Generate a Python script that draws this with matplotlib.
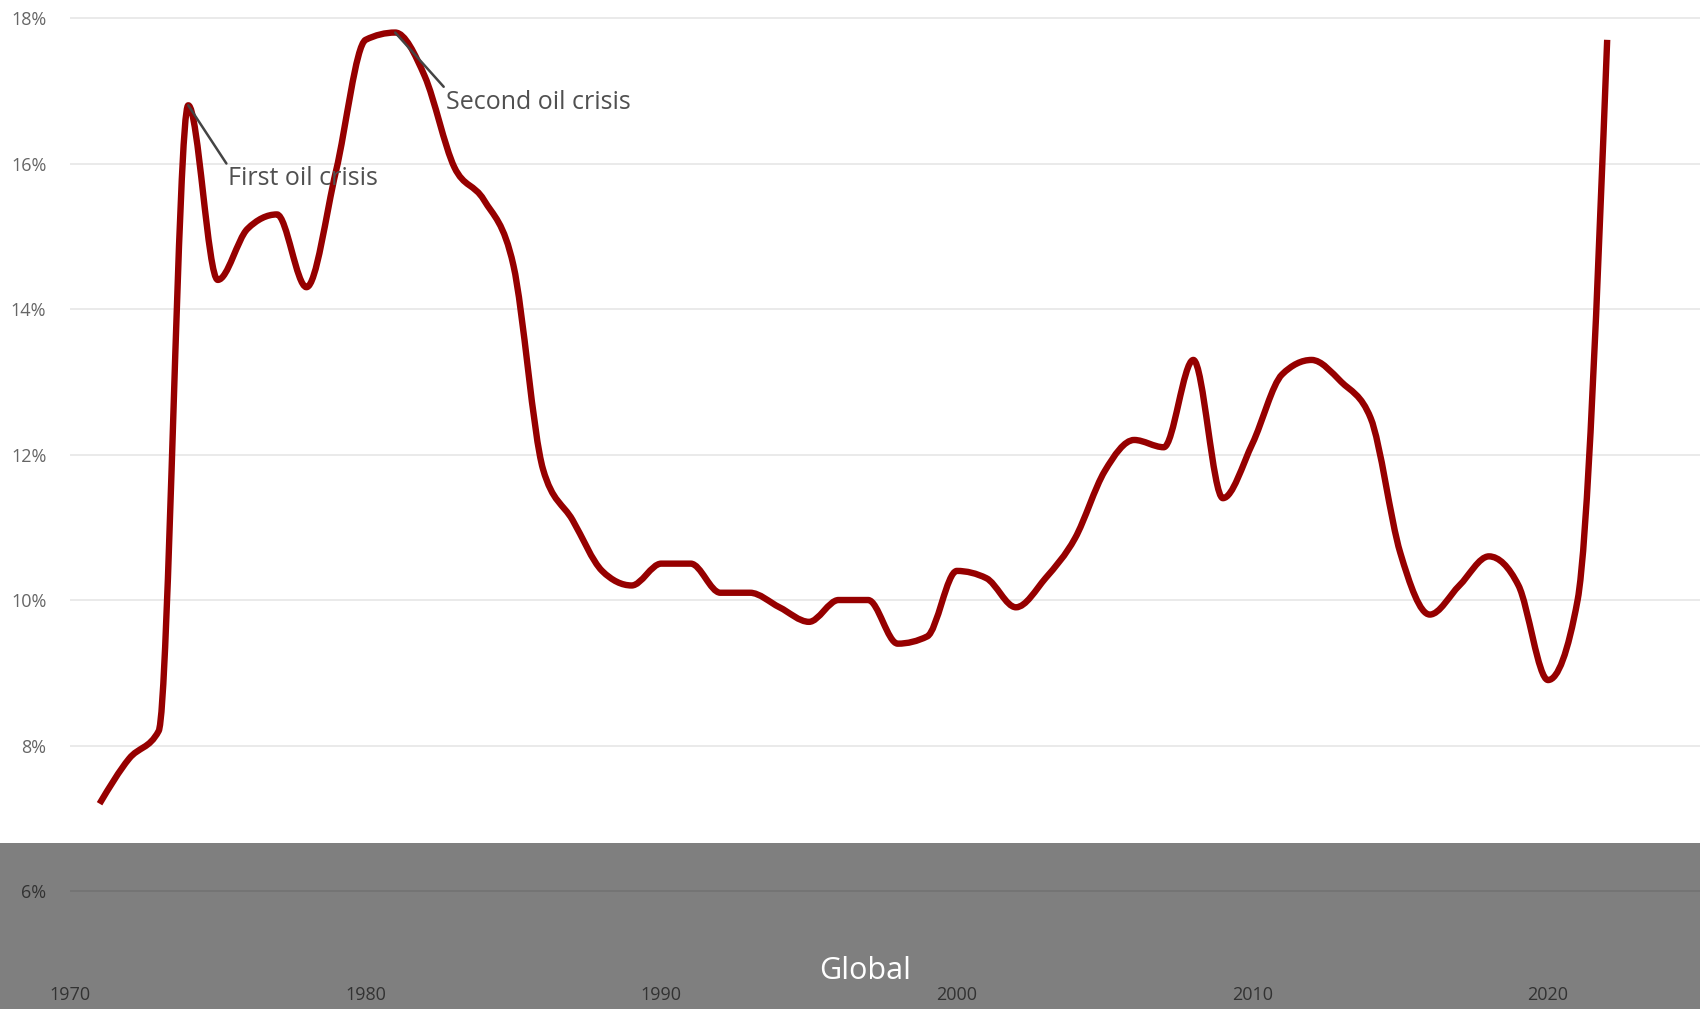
import numpy as np
import matplotlib
matplotlib.use("Agg")
import matplotlib.pyplot as plt
from matplotlib.path import Path
from matplotlib.patches import PathPatch, Rectangle

plt.rcParams['font.family'] = ['Open Sans', 'DejaVu Sans']

years = list(range(1971, 2023))
share = [7.2, 7.82, 8.2, 16.8, 14.4, 15.1, 15.3, 14.3, 15.9, 17.7,
         17.8, 17.2, 15.95, 15.5, 14.6, 11.8, 11.1, 10.4, 10.2, 10.5,
         10.5, 10.1, 10.1, 9.9, 9.7, 10.0, 10.0, 9.4, 9.5, 10.4,
         10.3, 9.9, 10.3, 10.85, 11.77, 12.2, 12.1, 13.3, 11.4, 12.15,
         13.1, 13.3, 13.0, 12.5, 10.65, 9.8, 10.2, 10.6, 10.2, 8.9,
         10.0, 17.7]
y_ticks = [6, 8, 10, 12, 14, 16, 18]
x_ticks = [1970, 1980, 1990, 2000, 2010, 2020]
annotations = [(1974, "First oil crisis"), (1981, "Second oil crisis")]
region_label = "Global"


def monotone_path(xs, ys):
    xs = np.asarray(xs, float)
    ys = np.asarray(ys, float)
    n = len(xs)
    h = np.diff(xs)
    s = np.diff(ys) / h
    t = np.zeros(n)
    for i in range(1, n - 1):
        h0, h1 = h[i - 1], h[i]
        s0, s1 = s[i - 1], s[i]
        p = (s0 * h1 + s1 * h0) / (h0 + h1)
        t[i] = (np.sign(s0) + np.sign(s1)) * min(abs(s0), abs(s1), 0.5 * abs(p))
    t[0] = (3 * s[0] - t[1]) / 2
    t[-1] = (3 * s[-1] - t[-2]) / 2
    verts = [(xs[0], ys[0])]
    codes = [Path.MOVETO]
    for i in range(n - 1):
        dx = h[i] / 3
        verts += [(xs[i] + dx, ys[i] + t[i] * dx),
                  (xs[i + 1] - dx, ys[i + 1] - t[i + 1] * dx),
                  (xs[i + 1], ys[i + 1])]
        codes += [Path.CURVE4] * 3
    return Path(verts, codes)


W, H = 1700, 1009
fig = plt.figure(figsize=(W / 100, H / 100), dpi=100, facecolor='white')
ax = fig.add_axes([70 / W, 1 - 980 / H, 1 - 70 / W, (980 - 10) / H])
ax.set_xlim(1970, 2025.14)
ax.set_ylim(4.777, 18.11)

for sp in ax.spines.values():
    sp.set_visible(False)
ax.set_yticks(y_ticks)
ax.set_yticklabels([f"{v}%" for v in y_ticks])
ax.set_xticks(x_ticks)
ax.set_xticklabels([str(v) for v in x_ticks])
ax.tick_params(axis='both', length=0, labelsize=13, labelcolor='#666666')
ax.tick_params(axis='y', pad=17)
ax.tick_params(axis='x', pad=4)
ax.grid(axis='y', color='#e6e6e6', lw=1.2)
ax.set_axisbelow(True)

patch = PathPatch(monotone_path(years, share), fill=False, edgecolor='#960000',
                  lw=4.6, capstyle='butt', joinstyle='round', zorder=3)
ax.add_patch(patch)

offsets = {1974: (40, -61), 1981: (51, -57)}
for yr, label in annotations:
    val = share[years.index(yr)]
    ax.annotate(label, xy=(yr, val), xytext=offsets[yr], textcoords='offset pixels',
                ha='left', va='top', fontsize=18, color='#505050',
                arrowprops=dict(arrowstyle='-', color='#444444', lw=1.8,
                                shrinkA=0, shrinkB=0, relpos=(0, 1)),
                zorder=4)

band = Rectangle((0, 0), 1, 166 / H, transform=fig.transFigure,
                 facecolor='black', alpha=0.5, edgecolor='none', zorder=10)
fig.add_artist(band)
fig.text(865 / W, 1 - 971 / H, region_label, color='white', fontsize=22,
         ha='center', va='center', zorder=11)

fig.savefig('out.png', dpi=100, facecolor='white')
